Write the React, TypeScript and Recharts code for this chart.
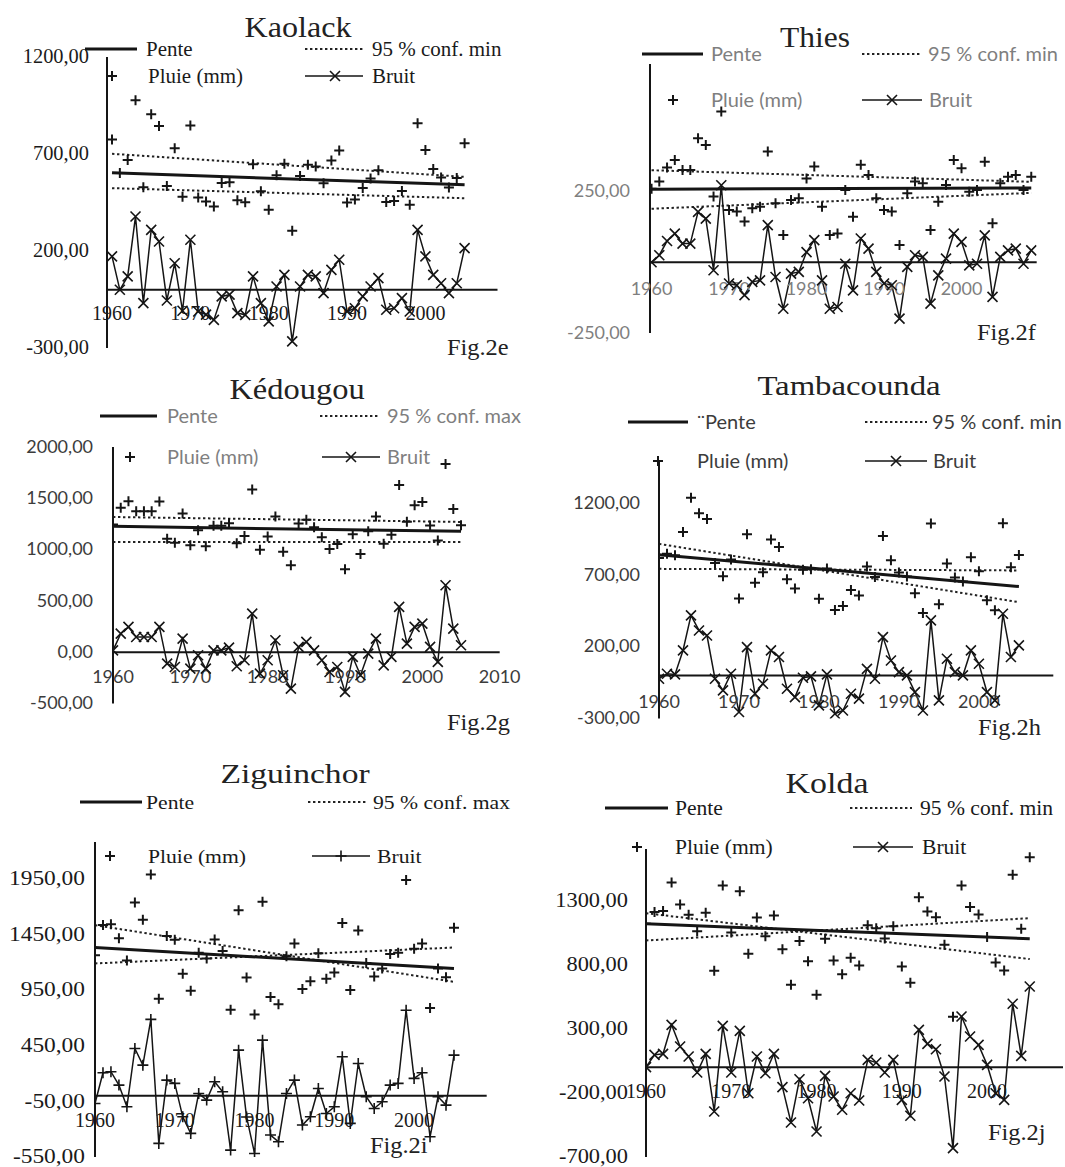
import React from 'react';
import { ComposedChart, Line, Scatter, XAxis, YAxis, ReferenceLine, ReferenceDot } from 'recharts';

const SERIF = '"Liberation Serif", "Times New Roman", serif';
const SANS = 'Lato, "Liberation Sans", Arial, sans-serif';

const years46 = [
  1960, 1961, 1962, 1963, 1964, 1965, 1966, 1967, 1968, 1969,
  1970, 1971, 1972, 1973, 1974, 1975, 1976, 1977, 1978, 1979,
  1980, 1981, 1982, 1983, 1984, 1985, 1986, 1987, 1988, 1989,
  1990, 1991, 1992, 1993, 1994, 1995, 1996, 1997, 1998, 1999,
  2000, 2001, 2002, 2003, 2004, 2005,
];
const years50 = [
  1960, 1961, 1962, 1963, 1964, 1965, 1966, 1967, 1968, 1969,
  1970, 1971, 1972, 1973, 1974, 1975, 1976, 1977, 1978, 1979,
  1980, 1981, 1982, 1983, 1984, 1985, 1986, 1987, 1988, 1989,
  1990, 1991, 1992, 1993, 1994, 1995, 1996, 1997, 1998, 1999,
  2000, 2001, 2002, 2003, 2004, 2005, 2006, 2007, 2008, 2009,
];
const ends46 = [1960, 2005];
const ends50 = [1960, 2009];

// Kaolack (Fig.2e)
const kaolackRain = [
  775, 602, 669, 977, 528, 905, 844, 535, 729, 480,
  847, 476, 455, 430, 550, 555, 461, 451, 647, 508,
  412, 591, 650, 305, 587, 645, 636, 549, 667, 718,
  450, 465, 525, 574, 616, 452, 458, 509, 439, 858,
  720, 623, 579, 527, 576, 756,
];
const kaolackNoise = [
  172, 0, 69, 378, -69, 309, 249, -55, 137, -108,
  258, -112, -128, -155, -34, -25, -120, -129, 69, -69,
  -163, 17, 77, -266, 17, 77, 69, -17, 103, 155,
  -112, -95, -34, 17, 60, -103, -95, -43, -112, 309,
  172, 77, 34, -17, 34, 215,
];
const kaolackTrend = [603, 541];
const kaolackConfA = [701, 582];
const kaolackConfB = [524, 472];
const kaolackYTicks = [-300, 200, 700, 1200];
const kaolackXLabels = [1960, 1970, 1980, 1990, 2000];

// Thies (Fig.2f)
const thiesRain = [
  260, 285, 335, 361, 326, 326, 438, 414, 232, 532,
  185, 179, 144, 191, 196, 391, 208, 96, 220, 226,
  296, 338, 196, 96, 102, 255, 161, 344, 308, 226,
  185, 179, 61, 244, 285, 279, 114, 214, 273, 361,
  332, 249, 255, 355, 138, 279, 302, 308, 255, 302,
];
const thiesNoise = [
  0, 25, 75, 101, 66, 66, 178, 154, -28, 272,
  -75, -81, -116, -69, -64, 131, -52, -164, -40, -34,
  36, 78, -64, -164, -158, -5, -99, 84, 48, -34,
  -75, -81, -199, -16, 25, 19, -146, -46, 13, 101,
  72, -11, -5, 95, -122, 19, 42, 48, -5, 42,
];
const thiesTrend = [258, 262];
const thiesConfA = [325, 284];
const thiesConfB = [189, 245];
const thiesYTicks = [-250, 250];
const thiesXLabels = [1960, 1970, 1980, 1990, 2000];

// Kédougou (Fig.2g)
const kedougouRain = [
  1246, 1408, 1472, 1373, 1373, 1373, 1469, 1105, 1068, 1352,
  1043, 1188, 1033, 1233, 1232, 1257, 1063, 1132, 1586, 1000,
  1129, 1323, 980, 849, 1254, 1290, 1219, 1121, 1006, 1054,
  810, 1149, 957, 1179, 1324, 1058, 1144, 1630, 1271, 1433,
  1464, 1236, 1088, 1834, 1397, 1237,
];
const kedougouNoise = [
  19, 182, 247, 149, 149, 149, 247, -110, -143, 133,
  -159, -29, -159, 19, 19, 45, -136, -78, 377, -208,
  -78, 117, -224, -354, 52, 101, 19, -78, -192, -143,
  -386, -45, -224, -13, 133, -127, -45, 442, 84, 247,
  279, 52, -94, 653, 231, 68,
];
const kedougouTrend = [1227, 1178];
const kedougouConfA = [1318, 1270];
const kedougouConfB = [1075, 1075];
const kedougouYTicks = [-500, 0, 500, 1000, 1500, 2000];
const kedougouXLabels = [1960, 1970, 1980, 1990, 2000, 2010];

// Tambacounda (Fig.2h)
const tambaRain = [
  817, 847, 837, 999, 1238, 1129, 1089, 783, 690, 808,
  536, 983, 645, 719, 946, 895, 669, 606, 736, 740,
  533, 744, 456, 484, 595, 556, 759, 685, 970, 802,
  716, 688, 573, 435, 1057, 495, 780, 682, 654, 823,
  725, 523, 454, 1059, 753, 838,
];
const tambaNoise = [
  -23, 12, 7, 174, 418, 313, 278, -23, -104, 12,
  -255, 197, -128, -58, 174, 128, -93, -151, -16, -7,
  -209, 7, -267, -244, -128, -162, 46, -23, 267, 104,
  23, 0, -116, -244, 383, -174, 116, 23, 0, 174,
  81, -116, -174, 429, 128, 209,
];
const tambaTrend = [840, 619];
const tambaConfA = [916, 510];
const tambaConfB = [742, 731];
const tambaYTicks = [-300, 200, 700, 1200];
const tambaXLabels = [1960, 1970, 1980, 1990, 2000];

// Ziguinchor (Fig.2i)
const zigRain = [
  1263, 1535, 1540, 1415, 1216, 1736, 1582, 1989, 871, 1435,
  1401, 1097, 944, 1285, 1234, 1404, 1301, 773, 1667, 1063,
  730, 1744, 887, 823, 1253, 1368, 960, 1030, 1281, 1052,
  1108, 1552, 950, 1484, 1192, 1072, 1143, 1273, 1284, 1938,
  1321, 1368, 789, 1143, 1064, 1509,
];
const zigNoise = [
  -69, 207, 216, 96, -99, 425, 275, 686, -428, 141,
  111, -189, -338, 21, -39, 126, 36, -488, 410, -190,
  -518, 500, -353, -413, 21, 141, -263, -189, 66, -159,
  -99, 350, -248, 290, -9, -114, -54, 96, 111, 769,
  156, 207, -368, -9, -84, 365,
];
const zigTrend = [1332, 1144];
const zigConfA = [1533, 1024];
const zigConfB = [1189, 1332];
const zigYTicks = [-550, -50, 450, 950, 1450, 1950];
const zigXLabels = [1960, 1970, 1980, 1990, 2000];

// Kolda (Fig.2j)
const koldaRain = [
  1117, 1210, 1216, 1439, 1268, 1187, 1059, 1203, 751, 1416,
  1049, 1371, 883, 1166, 1020, 1182, 919, 642, 984, 826,
  564, 1000, 831, 725, 852, 792, 1106, 1083, 1002, 1099,
  784, 657, 1325, 1213, 1169, 953, 392, 1416, 1248, 1190,
  1014, 815, 753, 1499, 1078, 1635,
];
const koldaNoise = [
  0, 96, 104, 330, 161, 83, -42, 104, -345, 322,
  -42, 283, -203, 83, -47, 104, -156, -431, -94, -242,
  -501, -68, -229, -332, -203, -260, 57, 36, -42, 57,
  -255, -379, 291, 182, 140, -73, -631, 395, 239, 174,
  18, -203, -255, 494, 88, 629,
];
const koldaTrend = [1117, 1000];
const koldaConfA = [1200, 842];
const koldaConfB = [987, 1161];
const koldaYTicks = [-700, -200, 300, 800, 1300];
const koldaXLabels = [1960, 1970, 1980, 1990, 2000];

const INK = '#151515';
const DASH = '2.4 2.6';

const plusD = (x: number, y: number, a: number) => `M${x - a},${y}H${x + a}M${x},${y - a}V${y + a}`;
const crossD = (x: number, y: number, a: number) =>
  `M${x - a},${y - a}L${x + a},${y + a}M${x - a},${y + a}L${x + a},${y - a}`;

const fmt = (v: number) => v.toFixed(2).replace('.', ',');

type Panel = {
  id: string;
  years: number[];
  rain: number[];
  noise: number[];
  ends: number[];
  trend: number[];
  confA: number[];
  confB: number[];
  yTicks: number[];
  xLabels: number[];
  left: number;
  top: number;
  w: number;
  h: number;
  xDomain: [number, number];
  yDomain: [number, number];
  tickFamily: string;
  tickFs: number;
  tickColor: string;
  tickGap: number;
  tickSx: number;
  xLabelDy: number;
  noiseMarker: 'x' | 'plus';
  title: string;
  titleX: number;
  titleY: number;
  titleFs: number;
  titleSx: number;
  legFamily: string;
  legFs: number;
  legSx: number;
  legColor: string;
  row1: number;
  row2: number;
  penteLine: [number, number];
  penteX: number;
  penteLabel: string;
  confLine: [number, number];
  confX: number;
  confLabel: string;
  plusX: number;
  pluieX: number;
  bruitLine: [number, number];
  bruitMarkX: number;
  bruitX: number;
  fig: string;
  figX: number;
  figY: number;
};

const panels: Panel[] = [
  {
    id: 'kaolack', years: years46, rain: kaolackRain, noise: kaolackNoise, ends: ends46,
    trend: kaolackTrend, confA: kaolackConfA, confB: kaolackConfB, yTicks: kaolackYTicks, xLabels: kaolackXLabels,
    left: 106.7, top: 57.2, w: 390.5, h: 291, xDomain: [1959.36, 2009.2], yDomain: [-300, 1200],
    tickFamily: SERIF, tickFs: 20, tickColor: '#1a1a1a', tickGap: 18, tickSx: 1.02, xLabelDy: 30, noiseMarker: 'x',
    title: 'Kaolack', titleX: 298, titleY: 37.3, titleFs: 30, titleSx: 1.07,
    legFamily: SERIF, legFs: 20, legSx: 1.05, legColor: '#1a1a1a', row1: 49, row2: 76,
    penteLine: [85, 137], penteX: 146, penteLabel: 'Pente', confLine: [305, 363], confX: 372, confLabel: '95 % conf. min',
    plusX: 112, pluieX: 148, bruitLine: [305, 363], bruitMarkX: 335, bruitX: 372,
    fig: 'Fig.2e', figX: 447, figY: 355,
  },
  {
    id: 'thies', years: years50, rain: thiesRain, noise: thiesNoise, ends: ends50,
    trend: thiesTrend, confA: thiesConfA, confB: thiesConfB, yTicks: thiesYTicks, xLabels: thiesXLabels,
    left: 650, top: 63.7, w: 386.7, h: 269.1, xDomain: [1959.8, 2009.7], yDomain: [-250, 700],
    tickFamily: SANS, tickFs: 18, tickColor: '#7f7f7f', tickGap: 20, tickSx: 1, xLabelDy: 33, noiseMarker: 'x',
    title: 'Thies', titleX: 815, titleY: 46.7, titleFs: 30, titleSx: 1.05,
    legFamily: SANS, legFs: 20, legSx: 1, legColor: '#7f7f7f', row1: 54, row2: 100,
    penteLine: [642, 703], penteX: 711, penteLabel: 'Pente', confLine: [862, 922], confX: 928, confLabel: '95 % conf. min',
    plusX: 673, pluieX: 711, bruitLine: [862, 922], bruitMarkX: 892, bruitX: 929,
    fig: 'Fig.2f', figX: 977, figY: 340,
  },
  {
    id: 'kedougou', years: years46, rain: kedougouRain, noise: kedougouNoise, ends: ends46,
    trend: kedougouTrend, confA: kedougouConfA, confB: kedougouConfB, yTicks: kedougouYTicks, xLabels: kedougouXLabels,
    left: 113.3, top: 446.7, w: 386.7, h: 256.6, xDomain: [1960, 2010], yDomain: [-500, 2000],
    tickFamily: SANS, tickFs: 18, tickColor: '#3c3c3c', tickGap: 20, tickSx: 1, xLabelDy: 31, noiseMarker: 'x',
    title: 'Kédougou', titleX: 297, titleY: 399.3, titleFs: 29, titleSx: 1.12,
    legFamily: SANS, legFs: 20, legSx: 1, legColor: '#7f7f7f', row1: 416, row2: 457,
    penteLine: [100, 157], penteX: 167, penteLabel: 'Pente', confLine: [320, 380], confX: 387, confLabel: '95 % conf. max',
    plusX: 130, pluieX: 167, bruitLine: [322, 380], bruitMarkX: 351, bruitX: 387,
    fig: 'Fig.2g', figX: 447, figY: 730,
  },
  {
    id: 'tamba', years: years46, rain: tambaRain, noise: tambaNoise, ends: ends46,
    trend: tambaTrend, confA: tambaConfA, confB: tambaConfB, yTicks: tambaYTicks, xLabels: tambaXLabels,
    left: 659, top: 459.5, w: 394.3, h: 258.5, xDomain: [1960, 2009.3], yDomain: [-300, 1500],
    tickFamily: SANS, tickFs: 18, tickColor: '#3c3c3c', tickGap: 19, tickSx: 1, xLabelDy: 33, noiseMarker: 'x',
    title: 'Tambacounda', titleX: 849, titleY: 395, titleFs: 28, titleSx: 1.17,
    legFamily: SANS, legFs: 20, legSx: 1, legColor: '#3c3c3c', row1: 422, row2: 461,
    penteLine: [628, 688], penteX: 697, penteLabel: '\u00A8Pente', confLine: [865, 927], confX: 932, confLabel: '95 % conf. min',
    plusX: 658, pluieX: 697, bruitLine: [865, 927], bruitMarkX: 896, bruitX: 933,
    fig: 'Fig.2h', figX: 978, figY: 735,
  },
  {
    id: 'zig', years: years46, rain: zigRain, noise: zigNoise, ends: ends46,
    trend: zigTrend, confA: zigConfA, confB: zigConfB, yTicks: zigYTicks, xLabels: zigXLabels,
    left: 95, top: 841.9, w: 391.7, h: 315, xDomain: [1960, 2009.1], yDomain: [-550, 2280],
    tickFamily: SERIF, tickFs: 20, tickColor: '#1a1a1a', tickGap: 10, tickSx: 1.17, xLabelDy: 31, noiseMarker: 'plus',
    title: 'Ziguinchor', titleX: 295, titleY: 783.3, titleFs: 28, titleSx: 1.2,
    legFamily: SERIF, legFs: 19, legSx: 1.14, legColor: '#1a1a1a', row1: 802, row2: 856,
    penteLine: [80, 142], penteX: 146, penteLabel: 'Pente', confLine: [308, 368], confX: 373, confLabel: '95 % conf. max',
    plusX: 110, pluieX: 148, bruitLine: [312, 370], bruitMarkX: 341, bruitX: 377,
    fig: 'Fig.2i', figX: 370, figY: 1153,
  },
  {
    id: 'kolda', years: years46, rain: koldaRain, noise: koldaNoise, ends: ends46,
    trend: koldaTrend, confA: koldaConfA, confB: koldaConfB, yTicks: koldaYTicks, xLabels: koldaXLabels,
    left: 646, top: 849.1, w: 417, h: 308, xDomain: [1960, 2008.9], yDomain: [-700, 1700],
    tickFamily: SERIF, tickFs: 20, tickColor: '#1a1a1a', tickGap: 18, tickSx: 1.12, xLabelDy: 31, noiseMarker: 'x',
    title: 'Kolda', titleX: 827, titleY: 792.7, titleFs: 30, titleSx: 1.13,
    legFamily: SERIF, legFs: 20, legSx: 1.08, legColor: '#1a1a1a', row1: 808, row2: 847,
    penteLine: [605, 668], penteX: 675, penteLabel: 'Pente', confLine: [850, 912], confX: 920, confLabel: '95 % conf. min',
    plusX: 637, pluieX: 675, bruitLine: [853, 913], bruitMarkX: 883, bruitX: 922,
    fig: 'Fig.2j', figX: 988, figY: 1140,
  },
];

const YW = 130;
const PT = 14;
const PB = 50;
const PR = 40;

function PanelChart({ p }: { p: Panel }) {
  const rainData = p.years.map((year, i) => ({ year, v: p.rain[i] }));
  const noiseData = p.years.map((year, i) => ({ year, v: p.noise[i] }));
  const trendData = p.ends.map((year, i) => ({ year, v: p.trend[i] }));
  const confAData = p.ends.map((year, i) => ({ year, v: p.confA[i] }));
  const confBData = p.ends.map((year, i) => ({ year, v: p.confB[i] }));

  const renderTick = (props: any) => {
    const { x, y, payload } = props;
    return (
      <text
        transform={`translate(${x},${y}) scale(${p.tickSx},1)`}
        x={0}
        y={0}
        dy="0.32em"
        textAnchor="end"
        fontFamily={p.tickFamily}
        fontSize={p.tickFs}
        fill={p.tickColor}
      >
        {fmt(payload.value)}
      </text>
    );
  };

  const noiseDot = (props: any) => {
    const { cx, cy, index } = props;
    if (cx == null || cy == null) return <g key={`nd${index}`} />;
    const d = p.noiseMarker === 'x' ? crossD(cx, cy, 5) : plusD(cx, cy, 5.5);
    return <path key={`nd${index}`} d={d} stroke={INK} strokeWidth={1.6} fill="none" />;
  };

  const rainShape = (props: any) => {
    const { cx, cy } = props;
    if (cx == null || cy == null) return <g />;
    return <path d={plusD(cx, cy, 5)} stroke={INK} strokeWidth={2} fill="none" />;
  };

  return (
    <div style={{ position: 'absolute', left: p.left - YW, top: p.top - PT }}>
      <ComposedChart
        width={YW + p.w + PR}
        height={p.h + PT + PB}
        margin={{ top: PT, right: PR, bottom: PB, left: 0 }}
      >
        <XAxis type="number" dataKey="year" domain={p.xDomain} hide allowDataOverflow />
        <YAxis
          type="number"
          dataKey="v"
          domain={p.yDomain}
          ticks={p.yTicks}
          interval={0}
          width={YW}
          tickLine={false}
          tickSize={0}
          tickMargin={p.tickGap}
          axisLine={{ stroke: INK, strokeWidth: 2 }}
          tick={renderTick}
          allowDataOverflow
        />
        <ReferenceLine y={0} stroke={INK} strokeWidth={2} ifOverflow="extendDomain" />
        {p.xLabels.map((yr) => (
          <ReferenceDot
            key={`xl${yr}`}
            x={yr}
            y={0}
            r={0}
            ifOverflow="visible"
            shape={(s: any) => (
              <text
                x={s.cx}
                y={s.cy + p.xLabelDy}
                textAnchor="middle"
                fontFamily={p.tickFamily}
                fontSize={p.tickFs}
                fill={p.tickColor}
              >
                {yr}
              </text>
            )}
          />
        ))}
        <Line data={confAData} dataKey="v" stroke="#222" strokeWidth={2} strokeDasharray={DASH} dot={false} isAnimationActive={false} />
        <Line data={confBData} dataKey="v" stroke="#222" strokeWidth={2} strokeDasharray={DASH} dot={false} isAnimationActive={false} />
        <Line data={trendData} dataKey="v" stroke={INK} strokeWidth={3} dot={false} isAnimationActive={false} />
        <Line data={noiseData} dataKey="v" stroke={INK} strokeWidth={1.5} dot={noiseDot} isAnimationActive={false} />
        <Scatter data={rainData} dataKey="v" shape={rainShape} isAnimationActive={false} />
      </ComposedChart>
    </div>
  );
}

function STxt(props: {
  x: number; y: number; text: string; fs: number; family: string; color: string; sx?: number; anchor?: 'start' | 'middle' | 'end';
}) {
  const { x, y, text, fs, family, color, sx = 1, anchor = 'start' } = props;
  return (
    <text transform={`translate(${x},${y}) scale(${sx},1)`} x={0} y={0} fontSize={fs} fontFamily={family} fill={color} textAnchor={anchor}>
      {text}
    </text>
  );
}

function Overlay() {
  return (
    <svg width={1065} height={1167} style={{ position: 'absolute', left: 0, top: 0, pointerEvents: 'none' }}>
      {panels.map((p) => {
        const b1 = p.row1 + 7;
        const b2 = p.row2 + 7;
        return (
          <g key={`ov${p.id}`}>
            <STxt x={p.titleX} y={p.titleY} text={p.title} fs={p.titleFs} family={SERIF} color="#222" sx={p.titleSx} anchor="middle" />
            <line x1={p.penteLine[0]} x2={p.penteLine[1]} y1={p.row1} y2={p.row1} stroke={INK} strokeWidth={3} />
            <STxt x={p.penteX} y={b1} text={p.penteLabel} fs={p.legFs} family={p.legFamily} color={p.legColor} sx={p.legSx} />
            <line x1={p.confLine[0]} x2={p.confLine[1]} y1={p.row1} y2={p.row1} stroke="#222" strokeWidth={2} strokeDasharray={DASH} />
            <STxt x={p.confX} y={b1} text={p.confLabel} fs={p.legFs} family={p.legFamily} color={p.legColor} sx={p.legSx} />
            <path d={plusD(p.plusX, p.row2, 5)} stroke={INK} strokeWidth={2} fill="none" />
            <STxt x={p.pluieX} y={b2} text="Pluie (mm)" fs={p.legFs} family={p.legFamily} color={p.legColor} sx={p.legSx} />
            <line x1={p.bruitLine[0]} x2={p.bruitLine[1]} y1={p.row2} y2={p.row2} stroke={INK} strokeWidth={1.5} />
            <path
              d={p.noiseMarker === 'x' ? crossD(p.bruitMarkX, p.row2, 5) : plusD(p.bruitMarkX, p.row2, 5.5)}
              stroke={INK}
              strokeWidth={1.6}
              fill="none"
            />
            <STxt x={p.bruitX} y={b2} text="Bruit" fs={p.legFs} family={p.legFamily} color={p.legColor} sx={p.legSx} />
            <STxt x={p.figX} y={p.figY} text={p.fig} fs={23} family={SERIF} color="#222" sx={1.06} />
          </g>
        );
      })}
    </svg>
  );
}

export default function App() {
  return (
    <div style={{ position: 'absolute', left: 0, top: 0, width: 1065, height: 1167, overflow: 'hidden', background: '#fff' }}>
      {panels.map((p) => (
        <PanelChart key={p.id} p={p} />
      ))}
      <Overlay />
    </div>
  );
}
